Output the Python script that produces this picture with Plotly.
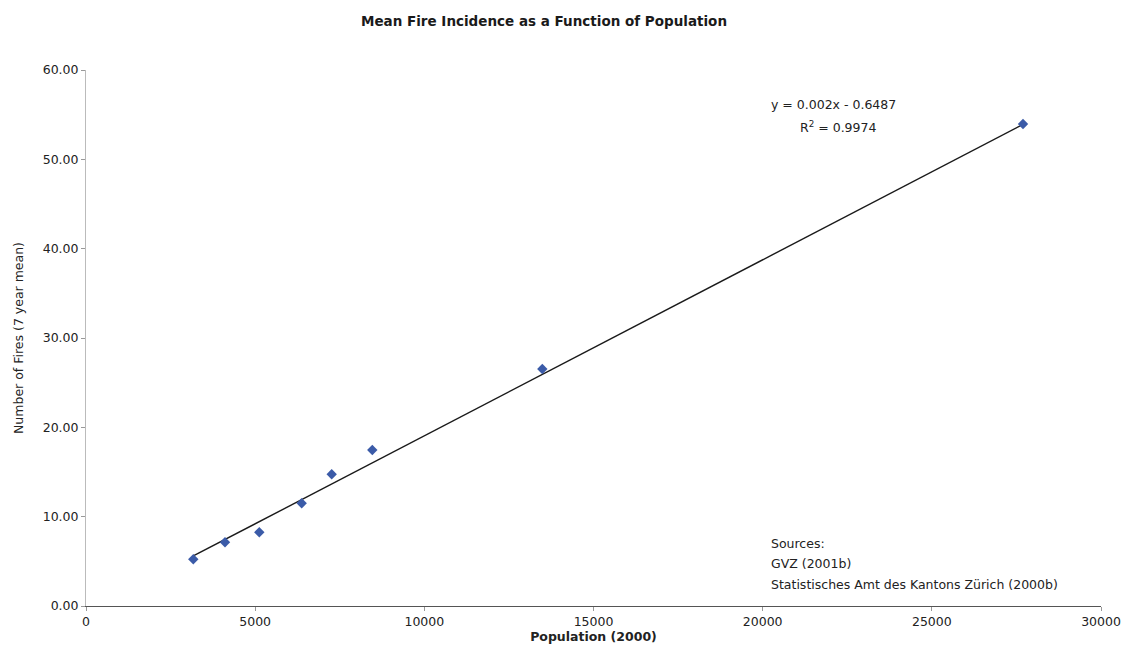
import numpy as np
import plotly.graph_objects as go

# Municipal population (2000) and mean number of fires over 7 years
population = [3171, 4108, 5122, 6375, 7262, 8462, 13487, 27695]
mean_fires = [5.23, 7.13, 8.25, 11.50, 14.74, 17.46, 26.53, 53.96]

# Linear trendline coefficients
trend_slope = 0.00197
trend_intercept = -0.6487
trend_label = "y = 0.002x - 0.6487"
r2_label = "R<sup>2</sup> = 0.9974"

source_lines = ["Sources:", "GVZ (2001b)", "Statistisches Amt des Kantons Zürich (2000b)"]

x_ticks = [0, 5000, 10000, 15000, 20000, 25000, 30000]
y_ticks = [0, 10, 20, 30, 40, 50, 60]

font_family = "DejaVu Sans, Verdana, sans-serif"
text_color = "#222222"

# plot-area geometry in pixels, used to place free-floating labels
W, H = 1129, 669
L, R, T, B = 86, 28, 70, 63
PW, PH = W - L - R, H - T - B


def px_to_paper(px, py):
    return (px - L) / PW, (H - B - py) / PH


trend_x = np.array([min(population), max(population)])
trend_y = trend_slope * trend_x + trend_intercept

fig = go.Figure()
fig.add_trace(go.Scatter(
    x=trend_x, y=trend_y, mode="lines",
    line=dict(color="#1a1a1a", width=1.4),
    showlegend=False, hoverinfo="skip",
))
fig.add_trace(go.Scatter(
    x=population, y=mean_fires, mode="markers",
    marker=dict(symbol="diamond", size=8, color="#3b5ba8", line=dict(width=0)),
    showlegend=False,
))

fig.update_layout(
    width=W, height=H,
    margin=dict(l=L, r=R, t=T, b=B, autoexpand=False),
    paper_bgcolor="white", plot_bgcolor="white",
    font=dict(family=font_family, size=12, color=text_color),
    title=dict(
        text="<b>Mean Fire Incidence as a Function of Population</b>",
        x=544 / W, xref="container", xanchor="center",
        y=1 - 21 / H, yref="container", yanchor="middle",
        font=dict(size=13.5, color="#1a1a1a"),
        automargin=False,
    ),
    xaxis=dict(
        range=[0, 30000], tickvals=x_ticks, ticktext=[str(v) for v in x_ticks],
        showgrid=False, zeroline=False, automargin=False,
        showline=True, linecolor="#555555", linewidth=1,
        ticks="outside", ticklen=4, tickcolor="#999999",
        tickfont=dict(size=12.5, color=text_color),
        title=dict(text="<b>Population (2000)</b>", font=dict(size=12.5), standoff=2),
    ),
    yaxis=dict(
        range=[0, 60], tickvals=y_ticks, tickformat=".2f",
        showgrid=False, zeroline=False, automargin=False,
        showline=True, linecolor="#bbbbbb", linewidth=1,
        ticks="outside", ticklen=4, tickcolor="#999999",
        tickfont=dict(size=12.5, color=text_color),
        title=dict(text="Number of Fires (7 year mean)", font=dict(size=12.5), standoff=16),
    ),
)

ex, ey = px_to_paper(833, 104)
fig.add_annotation(
    x=ex, y=ey, xref="paper", yref="paper",
    showarrow=False, text=trend_label, xanchor="center", yanchor="middle",
    font=dict(size=12.5, color=text_color),
)
rx, ry = px_to_paper(838, 127)
fig.add_annotation(
    x=rx, y=ry, xref="paper", yref="paper",
    showarrow=False, text=r2_label, xanchor="center", yanchor="middle",
    font=dict(size=12.5, color=text_color),
)
for i, line in enumerate(source_lines):
    sx, sy = px_to_paper(769, 543 + 20.5 * i)
    fig.add_annotation(
        x=sx, y=sy, xref="paper", yref="paper", showarrow=False, text=line,
        xanchor="left", yanchor="middle",
        font=dict(size=12.5, color=text_color),
    )

fig.write_html("out.html")
